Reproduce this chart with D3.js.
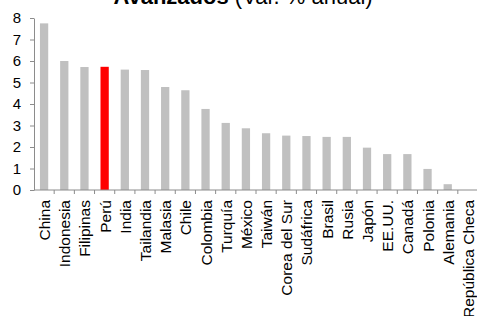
<!DOCTYPE html>
<html>
<head>
<meta charset="utf-8">
<script src="https://cdn.jsdelivr.net/npm/d3@7"></script>
<style>
  body { margin: 0; background: #fff; }
  svg { display: block; font-family: Arial, "Liberation Sans", sans-serif; }
</style>
</head>
<body>
<svg id="chart" width="477" height="316"></svg>
<script>
const countries = ["China", "Indonesia", "Filipinas", "Perú", "India", "Tailandia", "Malasia", "Chile",
  "Colombia", "Turquía", "México", "Taiwán", "Corea del Sur", "Sudáfrica", "Brasil", "Rusia",
  "Japón", "EE.UU.", "Canadá", "Polonia", "Alemania", "República Checa"];
const growth = [7.75, 6.0, 5.72, 5.73, 5.6, 5.58, 4.79, 4.64, 3.77, 3.12, 2.87, 2.64, 2.53, 2.51,
  2.47, 2.47, 1.97, 1.67, 1.67, 0.98, 0.27, 0.0];
const yTicks = [0, 1, 2, 3, 4, 5, 6, 7, 8];
const highlight = "Perú";

const svg = d3.select("#chart");
const plotLeft = 34, plotRight = 478, plotTop = 18, plotBottom = 190;

const x = d3.scaleBand().domain(countries).range([plotLeft, plotRight]).paddingInner(0.59).paddingOuter(0.295);
const y = d3.scaleLinear().domain([0, 8]).range([plotBottom, plotTop]);

// title (top part is cut off in the original)
const title = svg.append("text")
    .attr("x", 243).attr("y", 3.5)
    .attr("text-anchor", "middle")
    .style("font-size", "22px");
title.append("tspan").style("font-weight", "bold").text("Avanzados");
title.append("tspan").text(" (Var. % anual)");

// bars
svg.selectAll("rect.bar")
    .data(countries)
    .enter()
    .append("rect")
    .attr("class", "bar")
    .attr("x", d => x(d))
    .attr("width", x.bandwidth())
    .attr("y", (d, i) => y(Math.max(0, growth[i])))
    .attr("height", (d, i) => Math.abs(y(growth[i]) - y(0)))
    .attr("fill", d => d === highlight ? "#ff0000" : "#c0c0c0");

// y axis
const yAxis = svg.append("g")
    .attr("transform", `translate(${plotLeft},0)`)
    .call(d3.axisLeft(y).tickValues(yTicks).tickSize(4).tickSizeOuter(0).tickPadding(9));
yAxis.selectAll("path, line").attr("stroke", "#8c8c8c");
yAxis.selectAll("text").style("font-size", "15px").attr("fill", "#000");

// x axis: ticks sit on category boundaries
const xAxis = svg.append("g").attr("transform", `translate(0,${plotBottom})`);
xAxis.append("line")
    .attr("x1", plotLeft).attr("x2", plotRight)
    .attr("stroke", "#8c8c8c");
xAxis.selectAll("line.tick")
    .data(countries)
    .enter()
    .append("line")
    .attr("class", "tick")
    .attr("x1", d => x(d) + x.bandwidth() / 2 + x.step() / 2)
    .attr("x2", d => x(d) + x.bandwidth() / 2 + x.step() / 2)
    .attr("y1", 0).attr("y2", 4)
    .attr("stroke", "#8c8c8c");
xAxis.selectAll("text")
    .data(countries)
    .enter()
    .append("text")
    .attr("transform", d => `translate(${x(d) + x.bandwidth() / 2 + 6},10) rotate(-90)`)
    .attr("text-anchor", "end")
    .style("font-size", "15.5px")
    .text(d => d);
</script>
</body>
</html>
